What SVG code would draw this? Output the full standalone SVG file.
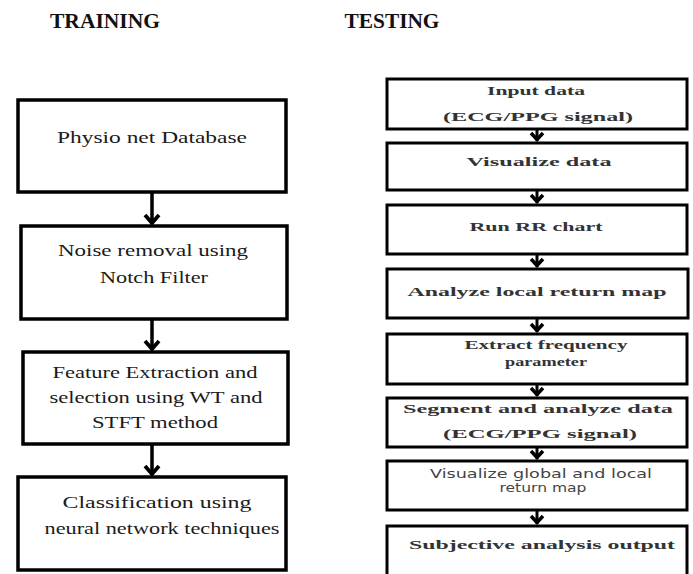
<svg xmlns="http://www.w3.org/2000/svg" width="693" height="574" viewBox="0 0 693 574">
<defs>
<style>
.bg{fill:#ffffff}
.title{font-family:"Liberation Serif","Times New Roman",serif;font-weight:bold;font-size:20px;fill:#111;text-anchor:middle}
.boxL{fill:#fff;stroke:#000;stroke-width:3.5}
.boxR{fill:#fff;stroke:#000;stroke-width:3}
.tL{font-family:"Liberation Serif","Times New Roman",serif;font-size:17px;fill:#1a1a1a;text-anchor:middle}
.tR{font-family:"Liberation Serif","Times New Roman",serif;font-size:13.5px;font-weight:bold;fill:#333;text-anchor:middle}
.tS{font-family:"DejaVu Sans","Liberation Sans",sans-serif;font-size:11.5px;fill:#444;text-anchor:middle}
.conn{stroke:#000;fill:none}
.cL{stroke-width:3.5}
.cR{stroke-width:3}
.head{fill:none;stroke:#000;stroke-linejoin:miter;stroke-linecap:butt}
</style>
<marker id="ahL" markerUnits="userSpaceOnUse" markerWidth="20" markerHeight="16" viewBox="0 0 20 16" refX="10" refY="14" orient="0">
<path class="head" d="M3,5 L10,13 L17,5" stroke-width="3.8"/>
</marker>
<marker id="ahR" markerUnits="userSpaceOnUse" markerWidth="18" markerHeight="12" viewBox="0 0 18 12" refX="9" refY="11" orient="0">
<path class="head" d="M3,3 L9,9.5 L15,3" stroke-width="3.5"/>
</marker>
</defs>
<rect class="bg" x="0" y="0" width="693" height="574"/>

<text class="title" x="105" y="28" textLength="110" lengthAdjust="spacingAndGlyphs">TRAINING</text>
<text class="title" x="392" y="28" textLength="95" lengthAdjust="spacingAndGlyphs">TESTING</text>

<g id="connectors">
<line class="conn cL" x1="152" y1="192" x2="152" y2="224" marker-end="url(#ahL)"/>
<line class="conn cL" x1="152" y1="319" x2="152" y2="350" marker-end="url(#ahL)"/>
<line class="conn cL" x1="152" y1="444" x2="152" y2="475" marker-end="url(#ahL)"/>
<line class="conn cR" x1="537" y1="129" x2="537" y2="141" marker-end="url(#ahR)"/>
<line class="conn cR" x1="537" y1="190" x2="537" y2="203" marker-end="url(#ahR)"/>
<line class="conn cR" x1="537" y1="254" x2="537" y2="267" marker-end="url(#ahR)"/>
<line class="conn cR" x1="537" y1="318" x2="537" y2="332" marker-end="url(#ahR)"/>
<line class="conn cR" x1="537" y1="384" x2="537" y2="396" marker-end="url(#ahR)"/>
<line class="conn cR" x1="537" y1="447" x2="537" y2="459" marker-end="url(#ahR)"/>
<line class="conn cR" x1="537" y1="510" x2="537" y2="524" marker-end="url(#ahR)"/>
</g>

<g id="train1">
<rect class="boxL" x="18" y="100" width="268" height="92"/>
<text class="tL" x="152" y="143" textLength="190" lengthAdjust="spacingAndGlyphs">Physio net Database</text>
</g>
<g id="train2">
<rect class="boxL" x="21" y="226" width="266" height="93"/>
<text class="tL" x="153" y="256" textLength="190" lengthAdjust="spacingAndGlyphs">Noise removal using</text>
<text class="tL" x="154" y="283" textLength="108" lengthAdjust="spacingAndGlyphs">Notch Filter</text>
</g>
<g id="train3">
<rect class="boxL" x="23" y="352" width="265" height="92"/>
<text class="tL" x="155" y="378" textLength="205" lengthAdjust="spacingAndGlyphs">Feature Extraction and</text>
<text class="tL" x="156" y="403" textLength="213" lengthAdjust="spacingAndGlyphs">selection using WT and</text>
<text class="tL" x="155" y="428" textLength="126" lengthAdjust="spacingAndGlyphs">STFT method</text>
</g>
<g id="train4">
<rect class="boxL" x="18" y="477" width="268" height="93"/>
<text class="tL" x="157" y="508" textLength="189" lengthAdjust="spacingAndGlyphs">Classification using</text>
<text class="tL" x="162" y="534" textLength="235" lengthAdjust="spacingAndGlyphs">neural network techniques</text>
</g>

<g id="test1">
<rect class="boxR" x="387" y="79" width="300" height="50"/>
<text class="tR" x="536" y="95" textLength="98" lengthAdjust="spacingAndGlyphs">Input data</text>
<text class="tR" x="538" y="121" textLength="190" lengthAdjust="spacingAndGlyphs">(ECG/PPG signal)</text>
</g>
<g id="test2">
<rect class="boxR" x="387" y="143" width="300" height="47"/>
<text class="tR" x="539" y="166" textLength="145" lengthAdjust="spacingAndGlyphs">Visualize data</text>
</g>
<g id="test3">
<rect class="boxR" x="387" y="205" width="300" height="49"/>
<text class="tR" x="536" y="231" textLength="133" lengthAdjust="spacingAndGlyphs">Run RR chart</text>
</g>
<g id="test4">
<rect class="boxR" x="387" y="269" width="301" height="49"/>
<text class="tR" x="537" y="296" textLength="259" lengthAdjust="spacingAndGlyphs">Analyze local return map</text>
</g>
<g id="test5">
<rect class="boxR" x="387" y="334" width="300" height="50"/>
<text class="tR" x="546" y="349" textLength="163" lengthAdjust="spacingAndGlyphs">Extract frequency</text>
<text class="tR" x="546" y="366" textLength="82" lengthAdjust="spacingAndGlyphs">parameter</text>
</g>
<g id="test6">
<rect class="boxR" x="387" y="398" width="300" height="49"/>
<text class="tR" x="538" y="413" textLength="270" lengthAdjust="spacingAndGlyphs">Segment and analyze data</text>
<text class="tR" x="540" y="438" textLength="194" lengthAdjust="spacingAndGlyphs">(ECG/PPG signal)</text>
</g>
<g id="test7">
<rect class="boxR" x="387" y="461" width="300" height="49"/>
<text class="tS" x="541" y="478" textLength="222" lengthAdjust="spacingAndGlyphs">Visualize global and local</text>
<text class="tS" x="543" y="492" textLength="87" lengthAdjust="spacingAndGlyphs">return map</text>
</g>
<g id="test8">
<rect class="boxR" x="387" y="526" width="300" height="54"/>
<text class="tR" x="542" y="549" textLength="266" lengthAdjust="spacingAndGlyphs">Subjective analysis output</text>
</g>
</svg>
